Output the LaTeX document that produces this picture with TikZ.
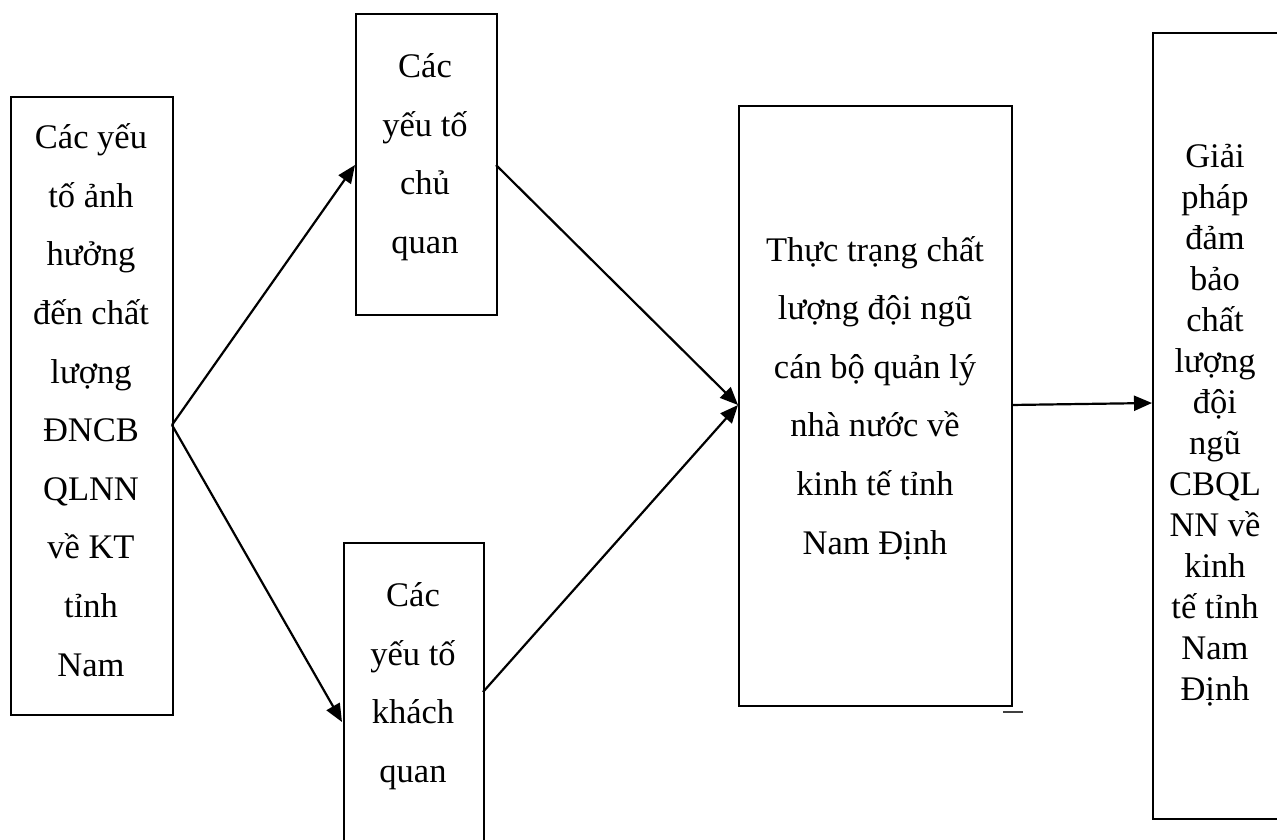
\documentclass[tikz,border=0pt]{standalone}
\usepackage{fontspec}
\setmainfont{Liberation Serif}
\usetikzlibrary{arrows.meta}
\begin{document}
\begin{tikzpicture}[x=0.5pt,y=-0.5pt,
  box/.style={draw,line width=1.1pt,anchor=north west,inner sep=0pt},
  txt/.style={align=center,inner sep=0pt,font=\fontsize{17.25}{29.3}\selectfont},
  txtb/.style={align=center,inner sep=0pt,font=\fontsize{17.25}{20.5}\selectfont},
  arr/.style={line width=1.1pt,-{Triangle[length=9pt,width=7.5pt]}}]
\clip (0,0) rectangle (1277,839);
\fill[white] (0,0) rectangle (1277,839);
% boxes
\node[box,minimum width=81pt,minimum height=309pt] (b1) at (10,96) {};
\node[box,minimum width=70.5pt,minimum height=150.5pt] (b2) at (355,13) {};
\node[box,minimum width=70pt,minimum height=169pt] (b3) at (343,542) {};
\node[box,minimum width=136.5pt,minimum height=300pt] (b4) at (738,105) {};
\node[box,minimum width=74pt,minimum height=393pt] (b5) at (1152,32) {};
% texts
\node[txt] (t1) at (91,400) {Các yếu\\tố ảnh\\hưởng\\đến chất\\lượng\\ĐNCB\\QLNN\\về KT\\tỉnh\\Nam};
\node[txt] (t2) at (425,157) {Các\\yếu tố\\chủ\\quan};
\node[txt] (t3) at (413,686) {Các\\yếu tố\\khách\\quan};
\node[txt] (t4) at (875,398) {Thực trạng chất\\lượng đội ngũ\\cán bộ quản lý\\nhà nước về\\kinh tế tỉnh\\Nam Định};
\node[txtb] (t5) at (1215,425) {Giải\\pháp\\đảm\\bảo\\chất\\lượng\\đội\\ngũ\\CBQL\\NN về\\kinh\\tế tỉnh\\Nam\\Định};
% connector points
\coordinate (p1) at (172,425);
\coordinate (p2) at (355,165);
\coordinate (p3) at (342,722);
\coordinate (p4) at (496,165);
\coordinate (p5) at (483,692);
\coordinate (p6) at (738,405);
\coordinate (p7) at (1011,405);
\coordinate (p8) at (1152,403);
\draw[arr] (p1) -- (p2);
\draw[arr] (p1) -- (p3);
\draw[arr] (p4) -- (p6);
\draw[arr] (p5) -- (p6);
\draw[arr] (p7) -- (p8);
% stray dash
\coordinate (d1) at (1003,712);
\coordinate (d2) at (1023,712);
\draw[line width=0.7pt,black!75] (d1) -- (d2);
\end{tikzpicture}
\end{document}
